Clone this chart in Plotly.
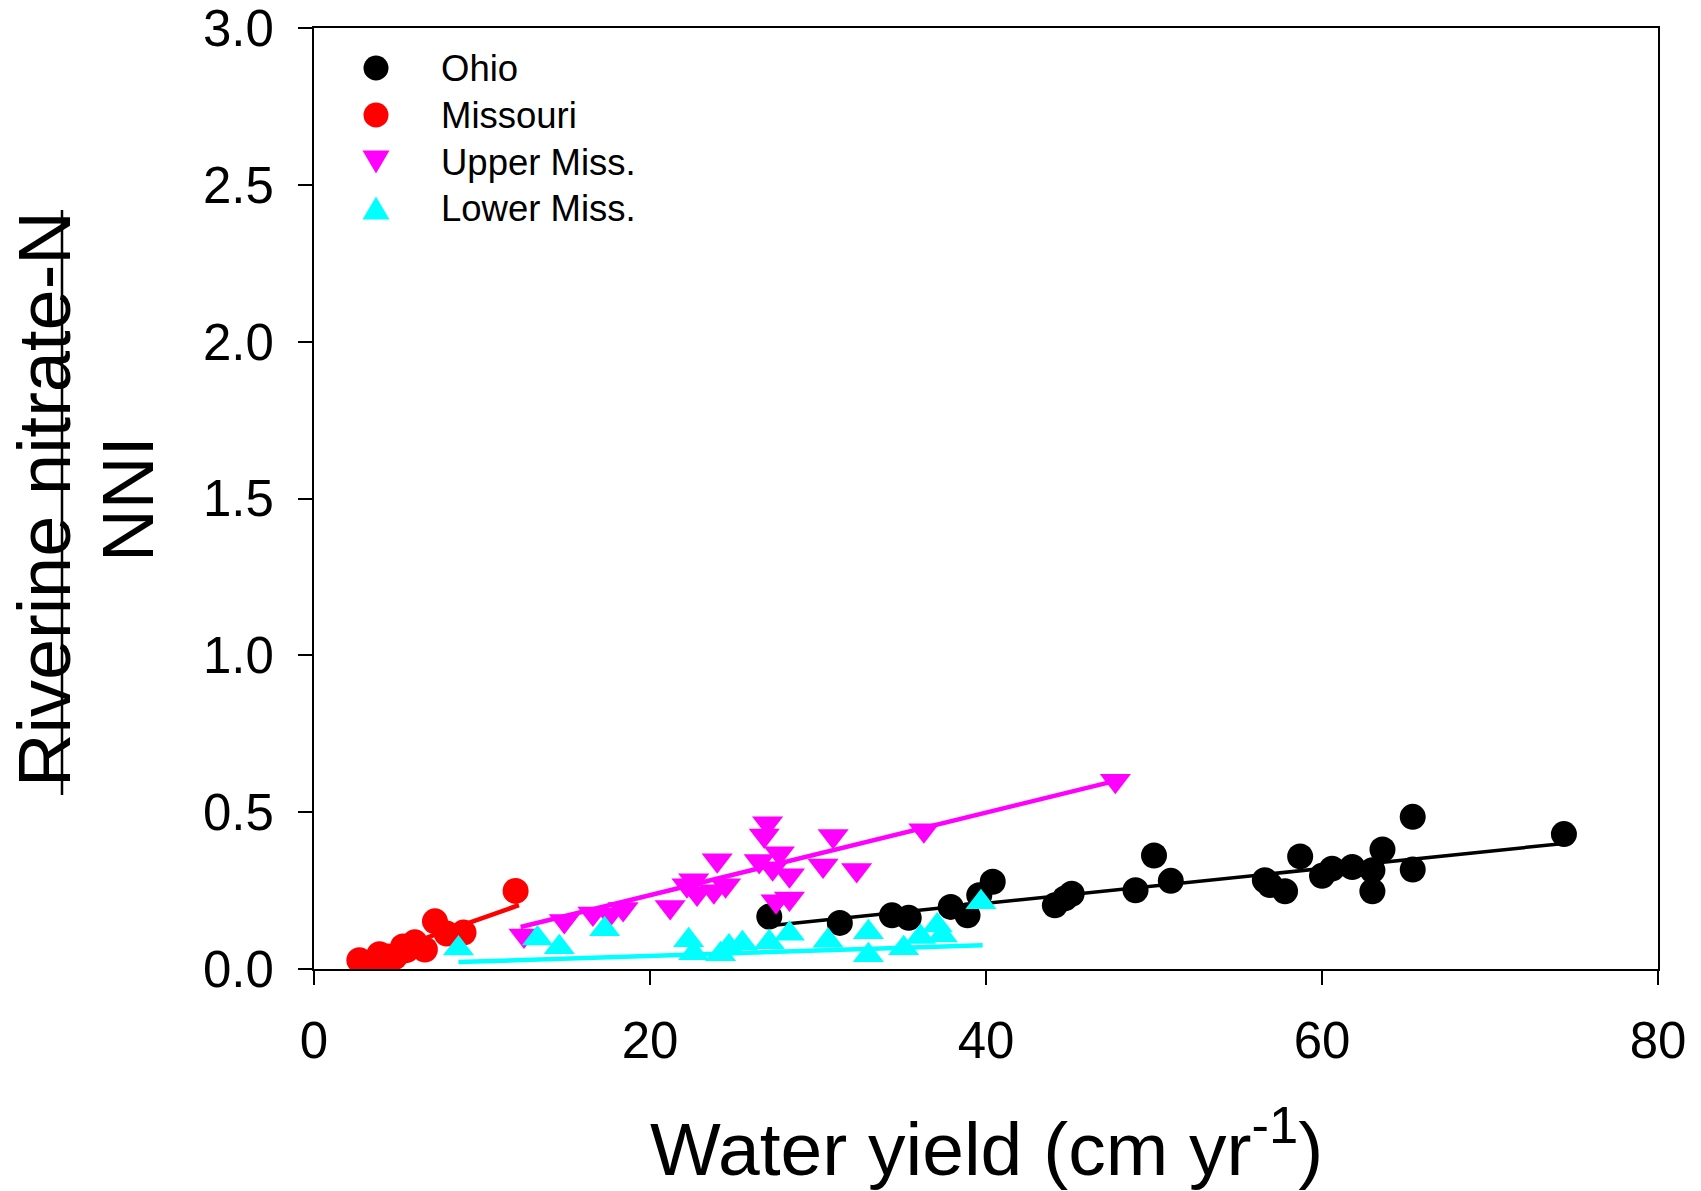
import plotly.graph_objects as go

# ---------------- data ----------------
series_names = ["Ohio", "Missouri", "Upper Miss.", "Lower Miss."]
series_colors = ["#000000", "#ff0000", "#ff00ff", "#00ffff"]
series_symbols = ["circle", "circle", "triangle-down", "triangle-up"]

ohio_x = [27.1, 31.3, 34.4, 35.4, 37.9, 38.9, 39.6, 40.4, 44.1, 44.7, 45.1, 48.9, 50.0, 51.0,
          56.6, 56.9, 57.8, 58.7, 60.0, 60.6, 61.8, 63.0, 63.0, 63.6, 65.4, 65.4, 74.4]
ohio_y = [0.167, 0.147, 0.171, 0.163, 0.198, 0.171, 0.235, 0.278, 0.203, 0.225, 0.240, 0.251, 0.362, 0.281,
          0.283, 0.268, 0.248, 0.359, 0.297, 0.320, 0.325, 0.315, 0.248, 0.381, 0.485, 0.317, 0.430]

missouri_x = [2.7, 3.2, 3.5, 3.9, 4.4, 4.8, 5.3, 5.5, 6.0, 6.6, 7.2, 7.9, 8.9, 12.0]
missouri_y = [0.028, 0.020, 0.015, 0.047, 0.040, 0.038, 0.072, 0.060, 0.085, 0.062, 0.152, 0.113, 0.116, 0.249]

upper_x = [12.5, 14.9, 16.6, 17.6, 18.4, 21.2, 22.2, 22.6, 22.8, 23.8, 24.0, 24.5, 26.5, 26.8, 27.0,
           27.3, 27.5, 27.7, 28.3, 28.3, 30.3, 30.9, 32.3, 36.3, 47.7]
upper_y = [0.107, 0.153, 0.177, 0.174, 0.191, 0.198, 0.267, 0.283, 0.241, 0.248, 0.347, 0.267, 0.344, 0.426, 0.465,
           0.321, 0.216, 0.369, 0.299, 0.225, 0.330, 0.424, 0.316, 0.442, 0.600]

lower_x = [8.6, 13.3, 14.6, 17.3, 22.3, 22.6, 24.2, 24.7, 25.5, 27.1, 28.3, 30.6, 33.0, 33.0,
           35.1, 36.1, 37.1, 37.4, 39.7]
lower_y = [0.065, 0.097, 0.069, 0.127, 0.092, 0.050, 0.047, 0.072, 0.082, 0.085, 0.112, 0.090, 0.117, 0.044,
           0.066, 0.102, 0.139, 0.107, 0.213]

# regression lines (slope, intercept)
fit_slopes = [0.00554, 0.0189, 0.01316, 0.00173]
fit_intercepts = [-0.012, -0.027, -0.0279, 0.0071]
fit_x_start = [27.1, 2.7, 12.3, 8.6]
fit_x_end = [74.4, 12.2, 47.7, 39.8]

x_tickvals = [0, 20, 40, 60, 80]
y_tickvals = [0.0, 0.5, 1.0, 1.5, 2.0, 2.5, 3.0]

xs_all = [ohio_x, missouri_x, upper_x, lower_x]
ys_all = [ohio_y, missouri_y, upper_y, lower_y]

FONT = "Arial, Liberation Sans, sans-serif"
W, H = 1701, 1191
L, R, T, B = 314, 43, 28, 222
PW, PH = W - L - R, H - T - B

def px2paper_x(px):
    return (px - L) / PW

def px2paper_y(py):
    return (H - B - py) / PH

marker_sizes = [26, 26, 27, 27]
line_widths = [3.5, 4.5, 4.5, 4.5]

fig = go.Figure()
for i, name in enumerate(series_names):
    fig.add_trace(go.Scatter(
        x=xs_all[i], y=ys_all[i], mode="markers", name=name, showlegend=False,
        marker=dict(color=series_colors[i], symbol=series_symbols[i], size=marker_sizes[i], line=dict(width=0)),
    ))
    xl = [fit_x_start[i], fit_x_end[i]]
    yl = [fit_intercepts[i] + fit_slopes[i] * v for v in xl]
    fig.add_trace(go.Scatter(
        x=xl, y=yl, mode="lines", showlegend=False, hoverinfo="skip",
        line=dict(color=series_colors[i], width=line_widths[i]),
    ))

axis_common = dict(
    showgrid=False, zeroline=False, showline=True, linecolor="black", linewidth=2,
    mirror=True, ticks="outside", ticklen=14, tickwidth=2, tickcolor="black",
    tickfont=dict(family=FONT, size=51, color="black"), automargin=False,
    ticklabeloverflow="allow",
)
fig.update_xaxes(range=[0, 80], tickvals=x_tickvals, ticklabelstandoff=12, **axis_common)
fig.update_yaxes(range=[0, 3], tickvals=y_tickvals, tickformat=".1f", ticklabelstandoff=14, **axis_common)

annotations = [
    dict(text="Water yield (cm yr<sup>-1</sup>)", x=0.5, y=px2paper_y(1143), xref="paper", yref="paper",
         xanchor="center", yanchor="middle", showarrow=False, font=dict(family=FONT, size=75, color="black")),
    dict(text="Riverine nitrate-N", x=px2paper_x(44), y=px2paper_y(499), xref="paper", yref="paper",
         xanchor="center", yanchor="middle", textangle=-90, showarrow=False,
         font=dict(family=FONT, size=74, color="black")),
    dict(text="NNI", x=px2paper_x(127), y=px2paper_y(499), xref="paper", yref="paper",
         xanchor="center", yanchor="middle", textangle=-90, showarrow=False,
         font=dict(family=FONT, size=73, color="black")),
]

# manual legend
legend_rows_y = [68, 115, 162, 208]
legend_marker_x = 376
legend_text_x = 439
shapes = []
for i, name in enumerate(series_names):
    ax = px2paper_x(legend_marker_x)
    ay = px2paper_y(legend_rows_y[i])
    if series_symbols[i] == "circle":
        shapes.append(dict(type="circle", xref="paper", yref="paper", xsizemode="pixel", ysizemode="pixel",
                           xanchor=ax, yanchor=ay, x0=-12.5, x1=12.5, y0=-12.5, y1=12.5,
                           fillcolor=series_colors[i], line=dict(width=0)))
    elif series_symbols[i] == "triangle-down":
        shapes.append(dict(type="path", xref="paper", yref="paper", xsizemode="pixel", ysizemode="pixel",
                           xanchor=ax, yanchor=ay, path="M-13.5,11.5 L13.5,11.5 L0,-11.5 Z",
                           fillcolor=series_colors[i], line=dict(width=0)))
    else:
        shapes.append(dict(type="path", xref="paper", yref="paper", xsizemode="pixel", ysizemode="pixel",
                           xanchor=ax, yanchor=ay, path="M-13.5,-11.5 L13.5,-11.5 L0,11.5 Z",
                           fillcolor=series_colors[i], line=dict(width=0)))
    annotations.append(dict(text=name, x=px2paper_x(legend_text_x), y=ay, xref="paper", yref="paper",
                            xanchor="left", yanchor="middle", showarrow=False,
                            font=dict(family=FONT, size=36.5, color="black")))

# thin vertical stroke crossing the y-axis title, as in the reference
shapes.append(dict(type="line", xref="paper", yref="paper",
                   x0=px2paper_x(62), x1=px2paper_x(62), y0=px2paper_y(795), y1=px2paper_y(210),
                   line=dict(color="black", width=2.5)))

fig.update_layout(
    width=W, height=H, margin=dict(l=L, r=R, t=T, b=B, autoexpand=False),
    paper_bgcolor="white", plot_bgcolor="white", showlegend=False,
    annotations=annotations, shapes=shapes,
    font=dict(family=FONT, color="black"),
)

fig.write_html("out.html")
